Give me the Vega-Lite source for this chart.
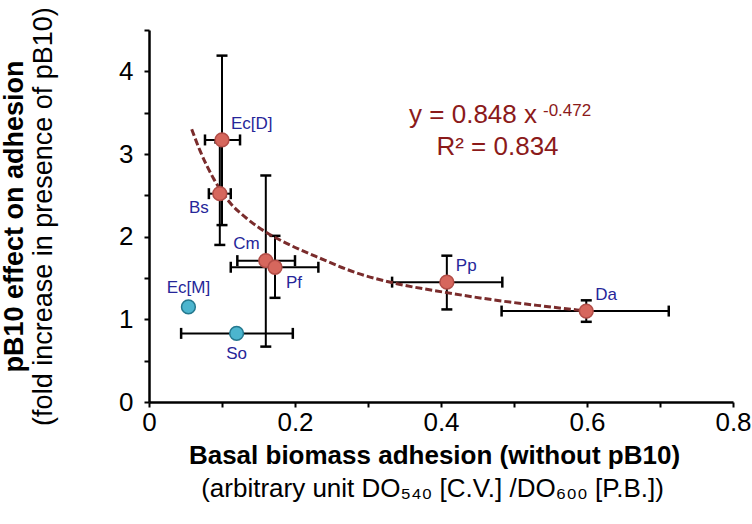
{
  "$schema": "https://vega.github.io/schema/vega-lite/v6.json",
  "width": 584,
  "height": 372,
  "autosize": "none",
  "padding": {"left": 149, "top": 30, "right": 19, "bottom": 122},
  "background": "white",
  "config": {
    "view": {"stroke": null},
    "font": "Liberation Sans",
    "axis": {"grid": false, "labelFont": "Liberation Sans", "titleFont": "Liberation Sans", "titleColor": "black", "labelColor": "black"}
  },
  "datasets": {
    "strains": [
      {"name": "Ec[D]", "x": 0.100, "y": 3.17, "xlo": 0.0767, "xhi": 0.1247, "ylo": 2.14, "yhi": 4.19, "group": "red"},
      {"name": "Bs", "x": 0.097, "y": 2.52, "xlo": 0.082, "xhi": 0.112, "ylo": 1.90, "yhi": 3.14, "group": "red"},
      {"name": "Cm", "x": 0.160, "y": 1.71, "xlo": 0.121, "xhi": 0.200, "ylo": 0.67, "yhi": 2.74, "group": "red"},
      {"name": "Pf", "x": 0.1726, "y": 1.63, "xlo": 0.112, "xhi": 0.232, "ylo": 1.26, "yhi": 2.01, "group": "red"},
      {"name": "Ec[M]", "x": 0.054, "y": 1.15, "group": "cyan"},
      {"name": "So", "x": 0.120, "y": 0.83, "xlo": 0.044, "xhi": 0.197, "group": "cyan"},
      {"name": "Pp", "x": 0.408, "y": 1.45, "xlo": 0.333, "xhi": 0.484, "ylo": 1.12, "yhi": 1.77, "group": "red"},
      {"name": "Da", "x": 0.599, "y": 1.10, "xlo": 0.483, "xhi": 0.712, "ylo": 0.97, "yhi": 1.23, "group": "red"}
    ],
    "fit": [
      {"x": 0.0585, "y": 3.30},
      {"x": 0.0699, "y": 3.04},
      {"x": 0.088, "y": 2.71},
      {"x": 0.111, "y": 2.41},
      {"x": 0.134, "y": 2.22},
      {"x": 0.161, "y": 2.05},
      {"x": 0.193, "y": 1.90},
      {"x": 0.234, "y": 1.74},
      {"x": 0.285, "y": 1.56},
      {"x": 0.335, "y": 1.44},
      {"x": 0.403, "y": 1.33},
      {"x": 0.472, "y": 1.235},
      {"x": 0.540, "y": 1.16},
      {"x": 0.590, "y": 1.11}
    ],
    "eq": [
      {"part": "main", "x": 0.5315, "y": 3.371, "text": "y = 0.848 x"},
      {"part": "exp", "x": 0.5397, "y": 3.46, "text": "-0.472"},
      {"part": "r2", "x": 0.4774, "y": 2.988, "text": "R² = 0.834"}
    ]
  },
  "layer": [
    {
      "data": {"name": "strains"},
      "transform": [{"filter": "isValid(datum.xlo)"}],
      "mark": {"type": "rule", "color": "black", "strokeWidth": 2},
      "encoding": {
        "x": {
          "field": "xlo", "type": "quantitative",
          "scale": {"domain": [0, 0.8], "nice": false},
          "axis": {"orient": "bottom", "labels": false, "ticks": false, "domain": false, "title": "Basal biomass adhesion (without pB10)", "titleFontSize": 26, "titleFontWeight": "bold", "titlePadding": 40, "titleX": 285}
        },
        "x2": {"field": "xhi"},
        "y": {
          "field": "y", "type": "quantitative",
          "scale": {"domain": [0, 4.5], "nice": false},
          "axis": {"orient": "left", "labels": false, "ticks": false, "domain": false, "title": "pB10 effect on adhesion", "titleFontSize": 27, "titleFontWeight": "bold", "titlePadding": 121}
        }
      }
    },
    {
      "data": {"name": "strains"},
      "transform": [{"filter": "isValid(datum.ylo)"}],
      "mark": {"type": "rule", "color": "black", "strokeWidth": 2},
      "encoding": {
        "x": {
          "field": "x", "type": "quantitative",
          "axis": {"orient": "bottom", "labels": false, "ticks": false, "domain": false, "title": "(arbitrary unit DO₅₄₀ [C.V.] /DO₆₀₀ [P.B.])", "titleFontSize": 26, "titleFontWeight": "normal", "titlePadding": 73, "titleX": 283}
        },
        "y": {
          "field": "ylo", "type": "quantitative",
          "axis": {"orient": "left", "labels": false, "ticks": false, "domain": false, "title": "(fold increase in presence of pB10)", "titleFontSize": 27, "titleFontWeight": "normal", "titlePadding": 92}
        },
        "y2": {"field": "yhi"}
      }
    },
    {
      "data": {"name": "strains"},
      "transform": [{"filter": "isValid(datum.xlo)"}],
      "mark": {"type": "tick", "orient": "vertical", "color": "black", "size": 11, "thickness": 2.5, "opacity": 1},
      "encoding": {
        "x": {"field": "xlo", "type": "quantitative", "axis": null},
        "y": {"field": "y", "type": "quantitative", "axis": null}
      }
    },
    {
      "data": {"name": "strains"},
      "transform": [{"filter": "isValid(datum.xhi)"}],
      "mark": {"type": "tick", "orient": "vertical", "color": "black", "size": 11, "thickness": 2.5, "opacity": 1},
      "encoding": {
        "x": {"field": "xhi", "type": "quantitative", "axis": null},
        "y": {"field": "y", "type": "quantitative", "axis": null}
      }
    },
    {
      "data": {"name": "strains"},
      "transform": [{"filter": "isValid(datum.ylo)"}],
      "mark": {"type": "tick", "orient": "horizontal", "color": "black", "size": 11, "thickness": 2.5, "opacity": 1},
      "encoding": {
        "x": {"field": "x", "type": "quantitative", "axis": null},
        "y": {"field": "ylo", "type": "quantitative", "axis": null}
      }
    },
    {
      "data": {"name": "strains"},
      "transform": [{"filter": "isValid(datum.yhi)"}],
      "mark": {"type": "tick", "orient": "horizontal", "color": "black", "size": 11, "thickness": 2.5, "opacity": 1},
      "encoding": {
        "x": {"field": "x", "type": "quantitative", "axis": null},
        "y": {"field": "yhi", "type": "quantitative", "axis": null}
      }
    },
    {
      "data": {"name": "fit"},
      "mark": {"type": "line", "interpolate": "monotone", "stroke": "#7A2C2C", "strokeWidth": 3, "strokeDash": [7, 3]},
      "encoding": {
        "x": {
          "field": "x", "type": "quantitative",
          "axis": {
            "orient": "bottom", "title": null,
            "values": [0, 0.1, 0.2, 0.3, 0.4, 0.5, 0.6, 0.7, 0.8],
            "labelExpr": "round(datum.value*10) % 2 == 0 ? toString(round(datum.value*10)/10) : ''",
            "labelFontSize": 26, "labelPadding": 2, "labelFlush": false, "labelOverlap": false,
            "domainColor": "black", "domainWidth": 2.5, "tickColor": "black", "tickWidth": 2, "tickSize": 5
          }
        },
        "y": {
          "field": "y", "type": "quantitative",
          "axis": {
            "orient": "left", "title": null,
            "values": [0, 0.5, 1, 1.5, 2, 2.5, 3, 3.5, 4, 4.5],
            "labelExpr": "round(datum.value*2) % 2 == 0 ? toString(round(datum.value)) : ''",
            "labelFontSize": 26, "labelPadding": 11, "labelOverlap": false,
            "domainColor": "black", "domainWidth": 2.5, "tickColor": "black", "tickWidth": 2, "tickSize": 5
          }
        }
      }
    },
    {
      "data": {"name": "strains"},
      "mark": {"type": "point", "shape": "circle", "filled": true, "size": 190, "opacity": 1, "strokeWidth": 1.5},
      "encoding": {
        "x": {"field": "x", "type": "quantitative", "axis": null},
        "y": {"field": "y", "type": "quantitative", "axis": null},
        "fill": {"field": "group", "type": "nominal", "scale": {"domain": ["red", "cyan"], "range": ["#D6675D", "#4CB5CE"]}, "legend": null},
        "stroke": {"field": "group", "type": "nominal", "scale": {"domain": ["red", "cyan"], "range": ["#B24D47", "#24788E"]}, "legend": null}
      }
    },
    {
      "data": {"name": "strains"},
      "transform": [{"filter": {"field": "name", "oneOf": ["Ec[D]", "Pp", "Da"]}}],
      "mark": {"type": "text", "align": "left", "baseline": "alphabetic", "dx": 9, "dy": -11, "fontSize": 17, "color": "#262699"},
      "encoding": {
        "x": {"field": "x", "type": "quantitative", "axis": null},
        "y": {"field": "y", "type": "quantitative", "axis": null},
        "text": {"field": "name"}
      }
    },
    {
      "data": {"name": "strains"},
      "transform": [{"filter": {"field": "name", "equal": "Cm"}}],
      "mark": {"type": "text", "align": "right", "baseline": "alphabetic", "dx": -6, "dy": -12, "fontSize": 17, "color": "#262699"},
      "encoding": {
        "x": {"field": "x", "type": "quantitative", "axis": null},
        "y": {"field": "y", "type": "quantitative", "axis": null},
        "text": {"field": "name"}
      }
    },
    {
      "data": {"name": "strains"},
      "transform": [{"filter": {"field": "name", "equal": "Bs"}}],
      "mark": {"type": "text", "align": "right", "baseline": "alphabetic", "dx": -11, "dy": 19, "fontSize": 17, "color": "#262699"},
      "encoding": {
        "x": {"field": "x", "type": "quantitative", "axis": null},
        "y": {"field": "y", "type": "quantitative", "axis": null},
        "text": {"field": "name"}
      }
    },
    {
      "data": {"name": "strains"},
      "transform": [{"filter": {"field": "name", "equal": "Pf"}}],
      "mark": {"type": "text", "align": "left", "baseline": "alphabetic", "dx": 11, "dy": 21, "fontSize": 17, "color": "#262699"},
      "encoding": {
        "x": {"field": "x", "type": "quantitative", "axis": null},
        "y": {"field": "y", "type": "quantitative", "axis": null},
        "text": {"field": "name"}
      }
    },
    {
      "data": {"name": "strains"},
      "transform": [{"filter": {"field": "name", "equal": "Ec[M]"}}],
      "mark": {"type": "text", "align": "center", "baseline": "alphabetic", "dy": -14, "fontSize": 17, "color": "#262699"},
      "encoding": {
        "x": {"field": "x", "type": "quantitative", "axis": null},
        "y": {"field": "y", "type": "quantitative", "axis": null},
        "text": {"field": "name"}
      }
    },
    {
      "data": {"name": "strains"},
      "transform": [{"filter": {"field": "name", "equal": "So"}}],
      "mark": {"type": "text", "align": "center", "baseline": "alphabetic", "dy": 26, "fontSize": 17, "color": "#262699"},
      "encoding": {
        "x": {"field": "x", "type": "quantitative", "axis": null},
        "y": {"field": "y", "type": "quantitative", "axis": null},
        "text": {"field": "name"}
      }
    },
    {
      "data": {"name": "eq"},
      "transform": [{"filter": {"field": "part", "equal": "main"}}],
      "mark": {"type": "text", "align": "right", "baseline": "alphabetic", "fontSize": 26, "color": "#8B1A1A"},
      "encoding": {
        "x": {"field": "x", "type": "quantitative", "axis": null},
        "y": {"field": "y", "type": "quantitative", "axis": null},
        "text": {"field": "text"}
      }
    },
    {
      "data": {"name": "eq"},
      "transform": [{"filter": {"field": "part", "equal": "exp"}}],
      "mark": {"type": "text", "align": "left", "baseline": "alphabetic", "fontSize": 17, "color": "#8B1A1A"},
      "encoding": {
        "x": {"field": "x", "type": "quantitative", "axis": null},
        "y": {"field": "y", "type": "quantitative", "axis": null},
        "text": {"field": "text"}
      }
    },
    {
      "data": {"name": "eq"},
      "transform": [{"filter": {"field": "part", "equal": "r2"}}],
      "mark": {"type": "text", "align": "center", "baseline": "alphabetic", "fontSize": 26, "color": "#8B1A1A"},
      "encoding": {
        "x": {"field": "x", "type": "quantitative", "axis": null},
        "y": {"field": "y", "type": "quantitative", "axis": null},
        "text": {"field": "text"}
      }
    }
  ],
  "resolve": {"axis": {"x": "independent", "y": "independent"}}
}
